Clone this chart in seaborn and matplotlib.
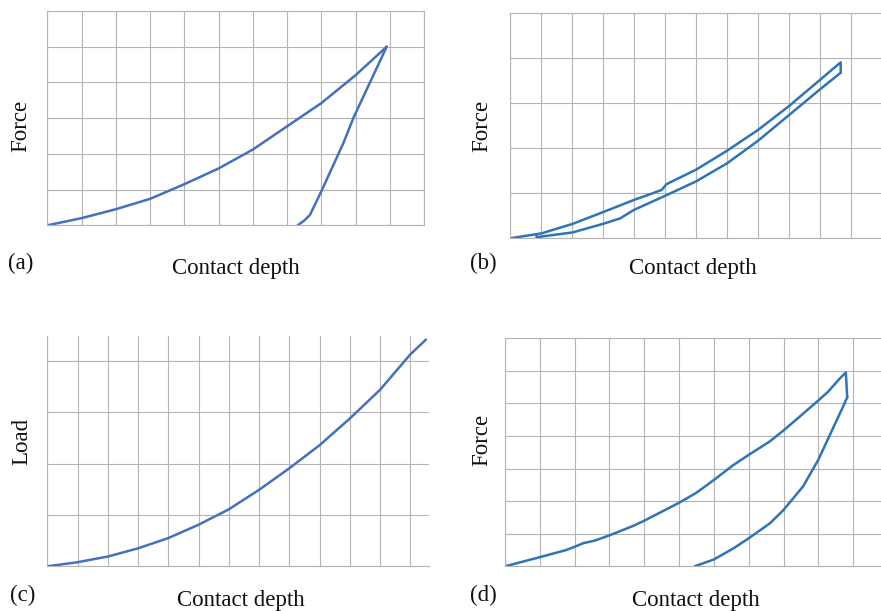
import matplotlib
matplotlib.use("Agg")
import matplotlib.pyplot as plt
import numpy as np
import pandas as pd
import seaborn as sns

sns.set_theme(style="white")
plt.rcParams["font.family"] = ["Liberation Serif", "DejaVu Serif"]

# (a) loading / unloading curves
a_load_x = [0, 1, 2, 3, 4, 5, 6, 7, 8, 9, 9.91]
a_load_y = [0, 0.20, 0.45, 0.74, 1.15, 1.59, 2.12, 2.77, 3.42, 4.20, 5.00]
a_unload_x = [9.91, 8.94, 8.65, 8.02, 7.67, 7.50, 7.31]
a_unload_y = [5.00, 3.01, 2.31, 0.99, 0.29, 0.13, 0.00]

# (b) loading / unloading curves
b_load_x = [0, 1.02, 2.02, 3.0, 4.0, 4.89, 5.05, 6.0, 7.0, 8.0, 9.0, 10.0, 10.67, 10.67]
b_load_y = [0, 0.11, 0.32, 0.58, 0.85, 1.07, 1.20, 1.52, 1.94, 2.40, 2.93, 3.51, 3.90, 3.67]
b_unload_x = [10.67, 10.0, 9.0, 8.0, 7.0, 6.0, 5.0, 4.0, 3.55, 3.0, 2.02, 1.02, 0.86, 0.86]
b_unload_y = [3.67, 3.30, 2.73, 2.16, 1.66, 1.26, 0.94, 0.63, 0.44, 0.32, 0.13, 0.04, 0.02, 0.06]

# (c) load curve
c_x = [0, 1, 2, 3, 4, 5, 6, 7, 8, 9, 10, 11, 12, 12.52]
c_y = [0, 0.08, 0.19, 0.35, 0.55, 0.81, 1.11, 1.49, 1.91, 2.36, 2.88, 3.44, 4.13, 4.42]

# (d) loading / unloading curves
d_load_x = [0, 1.0, 1.76, 2.0, 2.25, 2.58, 3.0, 3.68, 4.0, 5.0, 5.5, 6.0, 6.56, 7.0,
            7.6, 8.0, 8.47, 9.0, 9.28, 9.62, 9.79, 9.83]
d_load_y = [0, 0.28, 0.50, 0.60, 0.71, 0.79, 0.95, 1.24, 1.40, 1.95, 2.26, 2.65, 3.11, 3.42,
            3.83, 4.17, 4.60, 5.09, 5.36, 5.77, 5.95, 5.19]
d_unload_x = [9.83, 9.71, 9.33, 9.0, 8.56, 8.0, 7.61, 7.0, 6.56, 6.0, 5.45]
d_unload_y = [5.19, 4.90, 4.03, 3.27, 2.45, 1.73, 1.32, 0.86, 0.55, 0.21, 0.0]

W, H = 881, 611
fig = plt.figure(figsize=(W / 100, H / 100), dpi=100)
GRID = "#b4b4b4"
FS = 16.5


def make_axes(left, right, top, bottom):
    return fig.add_axes([left / W, 1 - bottom / H, (right - left) / W, (bottom - top) / H])


def style(ax, xmax, ymax, nx, ny, top=True, right=True):
    ax.set_xlim(0, xmax)
    ax.set_ylim(0, ymax)
    ax.set_xticks(np.arange(0, nx + 1))
    ax.set_yticks(np.arange(0, ny + 1))
    ax.grid(True, color=GRID, linewidth=0.8)
    ax.tick_params(length=0, labelbottom=False, labelleft=False)
    ax.set_xlabel("")
    ax.set_ylabel("")
    for name, sp in ax.spines.items():
        sp.set_color(GRID)
        sp.set_linewidth(0.8)
    ax.spines["top"].set_visible(top)
    ax.spines["right"].set_visible(right)
    if ax.get_legend():
        ax.get_legend().remove()


def curve(ax, xs, ys, color):
    df = pd.DataFrame({"depth": xs, "force": ys})
    sns.lineplot(data=df, x="depth", y="force", sort=False, ax=ax,
                 color=color, linewidth=1.8, estimator=None)
    ax.lines[-1].set_solid_joinstyle("round")
    ax.lines[-1].set_solid_capstyle("round")


BLUE_A = "#4470c0"
BLUE_B = "#2e74b8"

# panel (a)
ax = make_axes(47.3, 424, 11, 225.3)
curve(ax, a_load_x, a_load_y, BLUE_A)
curve(ax, a_unload_x, a_unload_y, BLUE_A)
style(ax, 11, 6, 11, 6)

# panel (b)
ax = make_axes(510, 881, 12.7, 238.3)
curve(ax, b_load_x, b_load_y, BLUE_B)
curve(ax, b_unload_x, b_unload_y, BLUE_B)
style(ax, 11.97, 5, 11, 5, top=True, right=False)

# panel (c)
ax = make_axes(47.3, 429, 336, 566.3)
curve(ax, c_x, c_y, BLUE_A)
style(ax, 12.62, 4.49, 12, 4, top=False, right=False)

# panel (d)
ax = make_axes(505, 881, 338.3, 566.3)
curve(ax, d_load_x, d_load_y, BLUE_B)
curve(ax, d_unload_x, d_unload_y, BLUE_B)
style(ax, 10.8, 7, 10, 7, top=True, right=False)


def ftext(x, y, s, **kw):
    fig.text(x / W, 1 - y / H, s, fontsize=FS, color="#111111", **kw)


# panel letters and axis titles
ftext(8, 269.5, "(a)", ha="left", va="baseline")
ftext(236, 274, "Contact depth", ha="center", va="baseline")
ftext(21, 126, "Force", rotation=90, ha="center", va="center")

ftext(470, 269.5, "(b)", ha="left", va="baseline")
ftext(692.5, 274, "Contact depth", ha="center", va="baseline")
ftext(482, 126, "Force", rotation=90, ha="center", va="center")

ftext(10, 601.5, "(c)", ha="left", va="baseline")
ftext(241, 606, "Contact depth", ha="center", va="baseline")
ftext(21.5, 441, "Load", rotation=90, ha="center", va="center")

ftext(470, 601.5, "(d)", ha="left", va="baseline")
ftext(696, 606, "Contact depth", ha="center", va="baseline")
ftext(482, 440, "Force", rotation=90, ha="center", va="center")

fig.savefig("out.png", dpi=100, facecolor="white")
